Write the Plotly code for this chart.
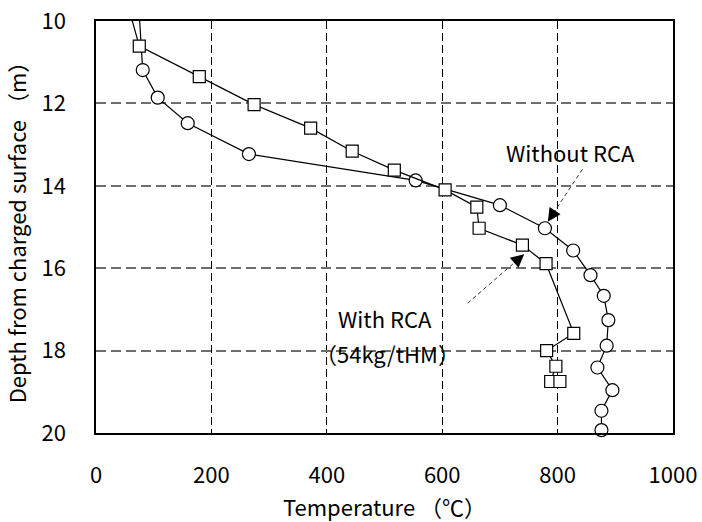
import plotly.graph_objects as go

# With RCA (squares): temperature (deg C), depth (m)
with_temp = [60, 75, 179, 274, 372, 444, 517, 605, 660, 664, 739, 780, 828, 781, 797, 788, 804]
with_depth = [9.85, 10.61, 11.35, 12.03, 12.6, 13.16, 13.62, 14.1, 14.52, 15.03, 15.44, 15.89, 17.58, 18.0, 18.38, 18.75, 18.75]

# Without RCA (circles)
without_temp = [75, 81, 107, 159, 265, 554, 700, 778, 827, 857, 880, 888, 885, 869, 895, 876, 876]
without_depth = [9.85, 11.19, 11.86, 12.48, 13.23, 13.87, 14.47, 15.03, 15.57, 16.17, 16.67, 17.26, 17.88, 18.41, 18.96, 19.46, 19.93]

x_ticks = [0, 200, 400, 600, 800, 1000]
y_ticks = [10, 12, 14, 16, 18, 20]

FONT = "Noto Sans CJK JP, sans-serif"

fig = go.Figure()
fig.add_trace(go.Scatter(
    x=without_temp, y=without_depth, mode="lines+markers",
    line=dict(color="black", width=1.2),
    marker=dict(symbol="circle", size=13, color="white", line=dict(color="black", width=1.2)),
    cliponaxis=False, showlegend=False))
fig.add_trace(go.Scatter(
    x=with_temp, y=with_depth, mode="lines+markers",
    line=dict(color="black", width=1.2),
    marker=dict(symbol="square", size=12, color="white", line=dict(color="black", width=1.2)),
    cliponaxis=False, showlegend=False))

# dashed leader lines
arrows = [
    dict(tail=(843, 13.6), tip=(783, 14.87)),
    dict(tail=(644, 16.85), tip=(742, 15.66)),
]
for a in arrows:
    (x0, y0), (x1, y1) = a["tail"], a["tip"]
    fig.add_shape(type="line", x0=x0, y0=y0, x1=x1, y1=y1, xref="x", yref="y",
                  line=dict(color="#333333", width=1, dash="4px,3px"))
    fx, fy = x1 - (x1 - x0) * 0.15, y1 - (y1 - y0) * 0.15
    fig.add_annotation(x=x1, y=y1, ax=fx, ay=fy, axref="x", ayref="y", xref="x", yref="y",
                       text="", showarrow=True, arrowhead=2, arrowsize=2.2, arrowwidth=1.2,
                       arrowcolor="black")

fig.add_annotation(x=823, y=13.18, xref="x", yref="y", text="Without RCA", showarrow=False,
                   font=dict(family=FONT, size=22, color="black"))
fig.add_annotation(x=500, y=17.2, xref="x", yref="y", text="With RCA", showarrow=False,
                   font=dict(family=FONT, size=22, color="black"))
fig.add_annotation(x=506, y=18.05, xref="x", yref="y", text="（54kg/tHM）", showarrow=False,
                   font=dict(family=FONT, size=22, color="black"))

fig.update_layout(
    width=702, height=522,
    margin=dict(l=96, r=29, t=21, b=89, autoexpand=False),
    paper_bgcolor="white", plot_bgcolor="white",
    font=dict(family=FONT, size=22, color="black"),
    xaxis=dict(range=[0, 1000], tickvals=x_ticks, ticks="", showline=True, linecolor="black",
               linewidth=1.5, mirror=True, showgrid=True, gridcolor="black", gridwidth=1,
               griddash="8px,4px", zeroline=False, ticklabelstandoff=22, automargin=False,
               tickfont=dict(size=22),
               title=dict(text="Temperature （℃）", standoff=12, font=dict(size=22))),
    yaxis=dict(range=[20, 10], tickvals=y_ticks, ticks="", showline=True, linecolor="black",
               linewidth=1.5, mirror=True, showgrid=True, gridcolor="#6e6e6e", gridwidth=1.5,
               griddash="10px,5px", zeroline=False, ticklabelstandoff=24, automargin=False,
               tickfont=dict(size=22),
               title=dict(text="Depth from charged surface （m）", standoff=16, font=dict(size=22))),
)

fig.write_html("out.html")
